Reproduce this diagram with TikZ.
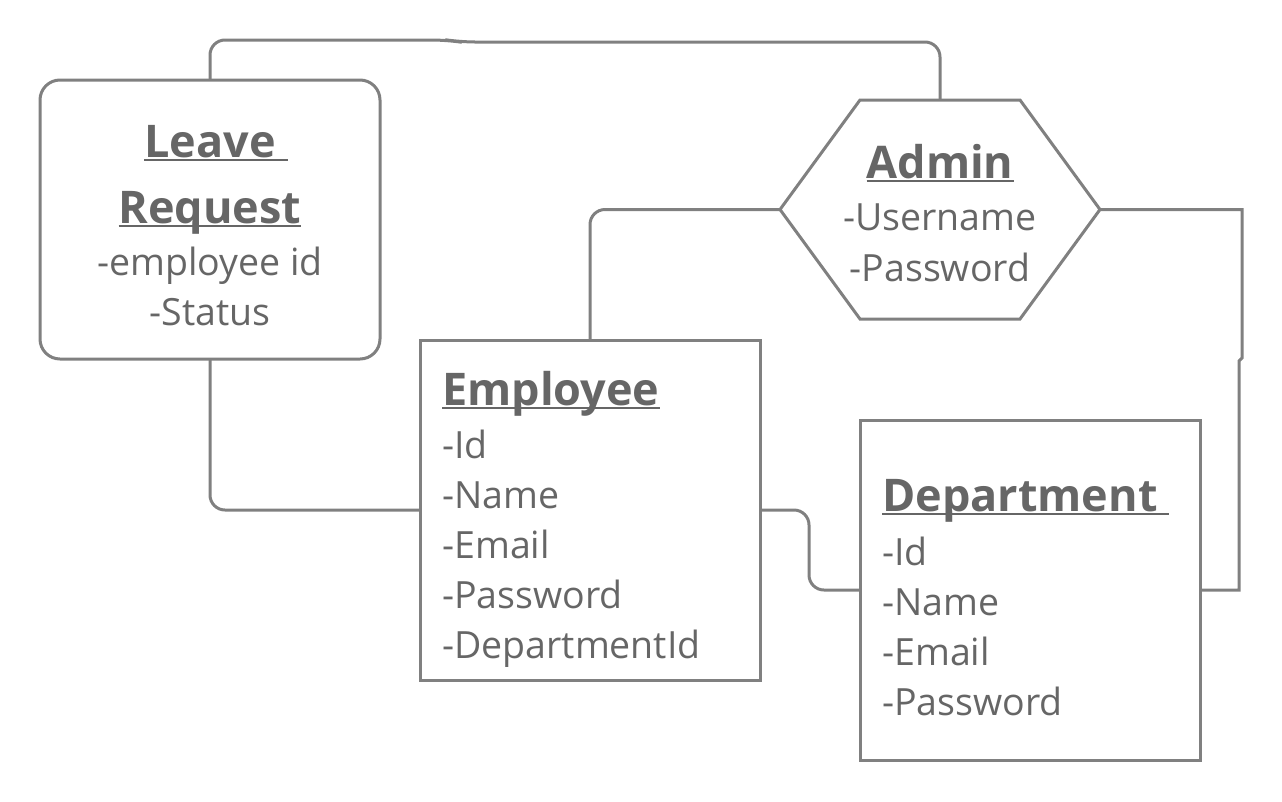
\documentclass[tikz,border=0pt]{standalone}
\usepackage{fontspec}
\setmainfont{Open Sans}
\definecolor{linegray}{HTML}{808080}
\definecolor{textgray}{HTML}{666666}
\newcommand\ultitle[1]{\setbox0=\hbox{#1}\rlap{\rule[-4pt]{\wd0}{2pt}}\box0}
\tikzset{
  entity/.style={draw=linegray, line width=3pt, inner sep=0pt, outer sep=0pt, minimum width=340pt},
  link/.style={draw=linegray, line width=3pt, rounded corners=15pt},
  title/.style={text=textgray, inner sep=0pt, font=\fontsize{45}{54}\selectfont\bfseries},
  attr/.style={text=textgray, inner sep=0pt, font=\fontsize{37.5}{50}\selectfont},
}
\begin{document}
\begin{tikzpicture}[x=1pt,y=-1pt]
\useasboundingbox (0,0) rectangle (1282,801);
% entities
\node[entity, rounded corners=20pt, minimum height=279pt] (leave) at (210,219.5) {};
\node[entity, minimum height=340pt] (emp) at (590,510) {};
\node[entity, minimum height=340pt] (dept) at (1030,590) {};
\coordinate[] (admin-n) at (940,100);
\coordinate[] (admin-w) at (780,209.5);
\coordinate[] (admin-e) at (1100,209.5);
\draw[draw=linegray, line width=3pt] (860,100) -- (1020,100) -- (admin-e) -- (1020,319) -- (860,319) -- (admin-w) -- cycle;
% texts
\node[title, anchor=base] (leave-t1) at (216,157) {\ultitle{Leave\ }};
\node[title, anchor=base] (leave-t2) at (210,223) {\ultitle{Request}};
\foreach \t [count=\i] in {-employee id,-Status}
  \node[attr, anchor=base] (leave-\i) at (210,225+50*\i) {\t};
\node[title, anchor=base] (admin-t) at (940,178) {\ultitle{Admin}};
\foreach \t [count=\i] in {-Username,-Password}
  \node[attr, anchor=base] (admin-\i) at (940,179+51*\i) {\t};
\node[title, anchor=base west] (emp-t) at (442,405) {\ultitle{Employee}};
\foreach \t [count=\i] in {-Id,-Name,-Email,-Password,-DepartmentId}
  \node[attr, anchor=base west] (emp-\i) at (442,408+50*\i) {\t};
\node[title, anchor=base west] (dept-t) at (882,511) {\ultitle{Department\ }};
\foreach \t [count=\i] in {-Id,-Name,-Email,-Password}
  \node[attr, anchor=base west] (dept-\i) at (882,515+50*\i) {\t};
% links
\draw[link] (leave.north) |- (447,40) -- (460,42) -| (admin-n);
\draw[link] (leave.south) |- (emp.west);
\draw[link] (emp.north) |- (admin-w);
\draw[link] (emp.east) -| (809,550) |- (dept.west);
\draw[link, rounded corners=0pt] (admin-e) -| (1242,358) -- (1239,361) |- (dept.east);
\end{tikzpicture}
\end{document}
